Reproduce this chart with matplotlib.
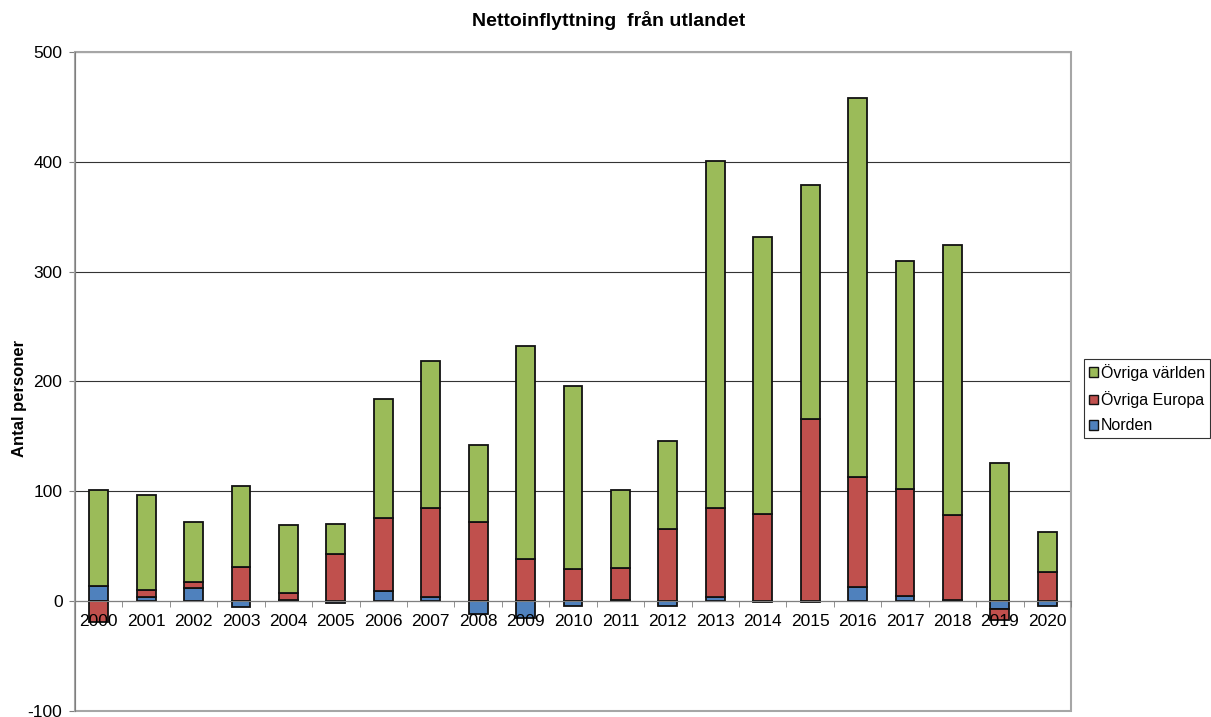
import numpy as np
import matplotlib
matplotlib.use("Agg")
import matplotlib.pyplot as plt
from matplotlib.patches import Patch, Rectangle

plt.rcParams['font.family'] = ['Liberation Sans', 'DejaVu Sans']
plt.rcParams['axes.unicode_minus'] = False

# data
years = [str(y) for y in range(2000, 2021)]
norden = [14, 4, 12, -5, 1, -2, 9, 4, -12, -15, -4, 1, -4, 4, -1, -1, 13, 5, 1, -7, -4]
europa = [-19, 6, 5, 31, 6, 43, 67, 81, 72, 38, 29, 29, 66, 81, 79, 166, 100, 97, 77, -10, 27]
varlden = [87, 87, 55, 74, 62, 27, 108, 134, 70, 194, 167, 71, 80, 316, 253, 213, 345, 208, 246, 126, 36]

series = [("Norden", norden, "#4F81BD"),
          ("Övriga Europa", europa, "#C0504D"),
          ("Övriga världen", varlden, "#9BBB59")]

fig = plt.figure(figsize=(12.11, 7.17), dpi=100)
ax = fig.add_axes([75 / 1211, 1 - 711 / 717, 996 / 1211, 659 / 717])

x = np.arange(len(years))
pos_base = np.zeros(len(years))
neg_base = np.zeros(len(years))
for name, vals, col in series:
    v = np.array(vals, dtype=float)
    bottom = np.where(v >= 0, pos_base, neg_base)
    ax.bar(x, v, bottom=bottom, width=0.4, color=col, edgecolor="#111111",
           linewidth=1.3, zorder=2)
    pos_base = pos_base + np.where(v >= 0, v, 0)
    neg_base = neg_base + np.where(v < 0, v, 0)

ax.set_xlim(-0.5, len(years) - 0.5)
ax.set_ylim(-100, 500)
ax.set_yticks(range(-100, 501, 100))

# gridlines behind bars, x labels on top of bars
ax.set_axisbelow(True)
ax.yaxis.grid(True, color="#333333", linewidth=0.8)
ax.xaxis.set_zorder(5)

ax.spines["top"].set_visible(False)
ax.spines["right"].set_visible(False)
ax.spines["left"].set_color("#7f7f7f")
ax.spines["bottom"].set_position(("data", 0))
ax.spines["bottom"].set_color("#7f7f7f")

ax.set_xticks(x)
ax.set_xticklabels(years)
ax.set_xticks(np.arange(-0.5, len(years)), minor=True)
ax.tick_params(axis="x", which="major", length=0, pad=9, labelsize=12.5)
ax.tick_params(axis="x", which="minor", length=4, direction="out", color="#7f7f7f")
ax.tick_params(axis="y", length=4, direction="out", color="#7f7f7f", pad=5, labelsize=12.5)

# plot area border
ax.add_patch(Rectangle((0, 0), 1, 1, transform=ax.transAxes, fill=False,
                       edgecolor="#a6a6a6", linewidth=1.5, zorder=0.6, clip_on=False))

fig.text(0.5025, 1 - 20 / 717, "Nettoinflyttning  från utlandet", ha="center", va="center",
         fontsize=14, fontweight="bold")
fig.text(20 / 1211, 1 - 398 / 717, "Antal personer", rotation=90, ha="center", va="center",
         fontsize=12, fontweight="bold")

handles = [Patch(facecolor=col, edgecolor="#111111", linewidth=1.0, label=name)
           for name, vals, col in series[::-1]]
leg = fig.legend(handles=handles, loc="upper left", bbox_to_anchor=(1084 / 1211, 1 - 359 / 717),
                 fontsize=11.5, frameon=True, fancybox=False, shadow=False,
                 handlelength=0.55, handleheight=0.55, handletextpad=0.2,
                 borderpad=0.3, labelspacing=0.65, borderaxespad=0)
leg.get_frame().set_edgecolor("black")
leg.get_frame().set_linewidth(0.8)

fig.savefig("out.png", dpi=100)
